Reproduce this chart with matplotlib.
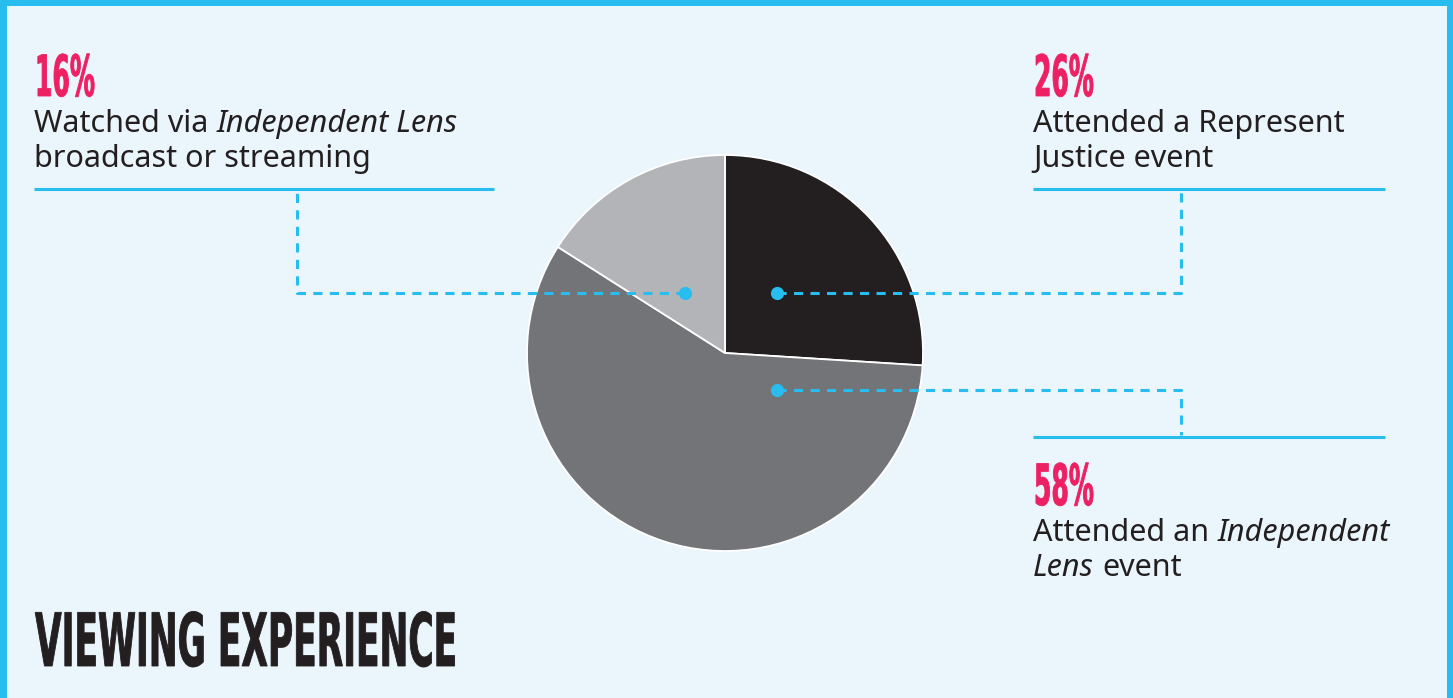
"""Viewing experience: pie chart with leader-line annotations."""
import matplotlib
matplotlib.use("Agg")
import matplotlib.pyplot as plt
from matplotlib.patches import Rectangle
from matplotlib.patheffects import AbstractPathEffect
from matplotlib.transforms import Affine2D

W, H = 1453, 698

# ---- data ----
shares = [26, 58, 16]
pct_labels = ["26%", "58%", "16%"]
slice_colors = ["#231f20", "#737477", "#b3b4b7"]
label_lines = [
    [[("Attended a Represent", "normal")], [("Justice event", "normal")]],
    [[("Attended an", "normal"), ("Independent", "italic")],
     [("Lens", "italic"), ("event", "normal")]],
    [[("Watched via", "normal"), ("Independent Lens", "italic")],
     [("broadcast or streaming", "normal")]],
]
title = "VIEWING EXPERIENCE"

BG = "#eaf5fc"
CYAN = "#27bdee"
PINK = "#ec2062"
INK = "#231f20"
BODY_FONT = "Noto Sans"
HEAD_FONT = ["Liberation Sans Narrow", "DejaVu Sans"]


def fy(y):
    # pixel rows (top-down) -> data y (bottom-up)
    return H - y


class Squeeze(AbstractPathEffect):
    """Compress glyphs horizontally around x0, optionally fattening strokes."""

    def __init__(self, sx, x0, stroke=0.0):
        super().__init__()
        self.sx, self.x0, self.stroke = sx, x0, stroke

    def draw_path(self, renderer, gc, tpath, affine, rgbFace=None):
        tr = affine + Affine2D().translate(-self.x0, 0).scale(self.sx, 1).translate(self.x0, 0)
        if self.stroke:
            gc0 = renderer.new_gc()
            gc0.copy_properties(gc)
            gc0.set_linewidth(self.stroke)
            gc0.set_foreground(rgbFace)
            gc0.set_joinstyle("miter")
            renderer.draw_path(gc0, tpath, tr, rgbFace)
            gc0.restore()
        else:
            renderer.draw_path(gc, tpath, tr, rgbFace)


fig = plt.figure(figsize=(W / 100, H / 100), dpi=100, facecolor=BG)
ax = fig.add_axes([0, 0, 1, 1])
ax.set_facecolor(BG)

# ---- pie ----
cx, cy, r = 725, 353, 198
ax.pie(shares, colors=slice_colors, startangle=90, counterclock=False,
       center=(cx, fy(cy)), radius=r,
       wedgeprops=dict(edgecolor="white", linewidth=1.3))
ax.set_xlim(0, W)
ax.set_ylim(0, H)
ax.set_aspect("auto")
ax.axis("off")

# ---- frame ----
for x, y, w, h in [(0, 0, 7, H), (0, H - 6, W, 6), (W - 6, 0, 6, H)]:
    ax.add_patch(Rectangle((x, y), w, h, color=CYAN, lw=0, zorder=5))

# ---- leader lines ----
solid_kw = dict(color=CYAN, lw=2.2, solid_capstyle="butt", zorder=3)
dash_kw = dict(color=CYAN, lw=2.2, dashes=(3, 2.4), zorder=3)
ax.plot([34, 494], [fy(189), fy(189)], **solid_kw)
ax.plot([1033, 1385], [fy(189), fy(189)], **solid_kw)
ax.plot([1033, 1385], [fy(437), fy(437)], **solid_kw)

ax.plot([685, 297, 297], [fy(293), fy(293), fy(191)], **dash_kw)
ax.plot([777, 1181, 1181], [fy(293), fy(293), fy(191)], **dash_kw)
ax.plot([777, 1181, 1181], [fy(390), fy(390), fy(435)], **dash_kw)
ax.plot([685, 777, 777], [fy(293), fy(293), fy(390)], "o", ms=9.5,
        color=CYAN, mec="none", zorder=4)

fig.canvas.draw()
renderer = fig.canvas.get_renderer()


def measure(s, **kw):
    t = ax.text(0, 0, s, **kw)
    w = t.get_window_extent(renderer).width
    t.remove()
    return w


body_size = 22
space_w = measure("n n", family=BODY_FONT, size=body_size) - measure("nn", family=BODY_FONT, size=body_size)


def draw_line(x, y, runs):
    for i, (s, style) in enumerate(runs):
        if i:
            x += space_w
        t = ax.text(x, fy(y), s, family=BODY_FONT, style=style, size=body_size,
                    color=INK, ha="left", va="baseline")
        x += t.get_window_extent(renderer).width


def draw_squeezed(x, y, s, size, target_w, color, stroke):
    t = ax.text(x, fy(y), s, family=HEAD_FONT, weight="bold", size=size,
                color=color, ha="left", va="baseline")
    nat = t.get_window_extent(renderer).width
    x0 = ax.transData.transform((x, 0))[0]
    t.set_path_effects([Squeeze(target_w / nat, x0, stroke)])
    return t


# ---- labels ----
pct_pos = [(1033, 96), (1033, 505), (34, 96)]
body_pos = [(1033, 132), (1033, 541), (34, 132)]
for (px, py), pct in zip(pct_pos, pct_labels):
    draw_squeezed(px + 1, py, pct, 41, 60, PINK, 0.6)
for (bx, by), lines in zip(body_pos, label_lines):
    for k, runs in enumerate(lines):
        draw_line(bx, by + 35 * k, runs)

draw_squeezed(35, 666, title, 53, 422, INK, 0.6)

fig.savefig("out.png", dpi=100, facecolor=BG)
